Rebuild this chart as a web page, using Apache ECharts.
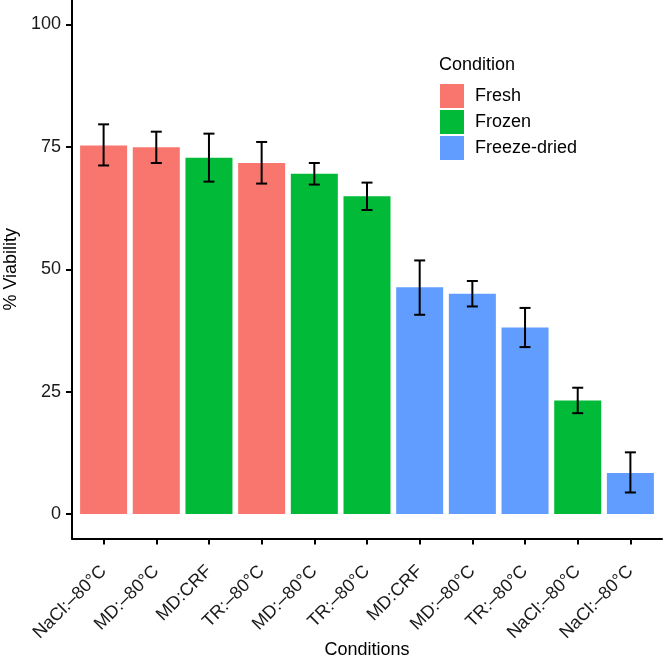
<!DOCTYPE html>
<html>
<head>
<meta charset="utf-8">
<script src="https://cdn.jsdelivr.net/npm/echarts@6/dist/echarts.min.js"></script>
<style>html,body{margin:0;padding:0;background:#fff}#c{width:664px;height:663px}</style>
</head>
<body>
<div id="c"></div>
<script>
const categories = ['NaCl:\u201380\u00B0C','MD:\u201380\u00B0C','MD:CRF','TR:\u201380\u00B0C','MD:\u201380\u00B0C','TR:\u201380\u00B0C','MD:CRF','MD:\u201380\u00B0C','TR:\u201380\u00B0C','NaCl:\u201380\u00B0C','NaCl:\u201380\u00B0C'];
const conditions = ['Fresh','Fresh','Frozen','Fresh','Frozen','Frozen','Freeze-dried','Freeze-dried','Freeze-dried','Frozen','Freeze-dried'];
const viability = [75.3, 74.9, 72.8, 71.7, 69.5, 64.9, 46.3, 45.0, 38.1, 23.2, 8.4];
const errLow  = [71.2, 71.7, 67.9, 67.5, 67.3, 62.1, 40.7, 42.4, 34.1, 20.6, 4.4];
const errHigh = [79.6, 78.1, 77.7, 76.0, 71.7, 67.7, 51.8, 47.6, 42.1, 25.8, 12.6];
const legendNames = ['Fresh','Frozen','Freeze-dried'];
const yTicks = [0, 25, 50, 75, 100];

const colors = {'Fresh':'#F8766D','Frozen':'#00BA38','Freeze-dried':'#619CFF'};
const idx = categories.map((_, i) => i);
const font = 'Liberation Sans, Arial, sans-serif';

const barSeries = legendNames.map(name => ({
  name: name,
  type: 'bar',
  barWidth: 47,
  barGap: '-100%',
  itemStyle: {color: colors[name]},
  data: idx.filter(i => conditions[i] === name).map(i => [i, viability[i]]),
  animation: false
}));

const errSeries = {
  type: 'custom',
  data: idx.map(i => [i, errLow[i], errHigh[i]]),
  renderItem: function (params, api) {
    const x = api.value(0);
    const lo = api.coord([x, api.value(1)]);
    const hi = api.coord([x, api.value(2)]);
    const hw = 5.5;
    const st = {stroke: '#000', lineWidth: 2};
    return {type: 'group', children: [
      {type: 'line', shape: {x1: lo[0], y1: lo[1], x2: hi[0], y2: hi[1]}, style: st},
      {type: 'line', shape: {x1: lo[0]-hw, y1: lo[1], x2: lo[0]+hw, y2: lo[1]}, style: st},
      {type: 'line', shape: {x1: hi[0]-hw, y1: hi[1], x2: hi[0]+hw, y2: hi[1]}, style: st}
    ]};
  },
  z: 10,
  animation: false
};

const chart = echarts.init(document.getElementById('c'), null, {renderer: 'canvas'});
chart.setOption({
  animation: false,
  backgroundColor: '#fff',
  textStyle: {fontFamily: font},
  title: {text: 'Condition', left: 434, top: 51, textStyle: {fontFamily: font, fontSize: 18, fontWeight: 'normal', color: '#000'}},
  graphic: [{
    type: 'text', x: 367, y: 650,
    style: {text: 'Conditions', font: '18px ' + font, fill: '#000', textAlign: 'center', textVerticalAlign: 'middle'}
  }],
  legend: {
    data: legendNames,
    orient: 'vertical',
    left: 435, top: 79,
    icon: 'rect',
    itemWidth: 24, itemHeight: 24, itemGap: 2,
    textStyle: {fontFamily: font, fontSize: 18, color: '#000', padding: [0,0,0,6]},
    selectedMode: false
  },
  grid: {left: 72, right: 2, top: 0, bottom: 663 - 538.5, containLabel: false, outerBoundsMode: 'none'},
  xAxis: {
    type: 'value',
    min: -0.6, max: categories.length - 1 + 0.6,
    axisLine: {show: true, onZero: false, lineStyle: {color: '#000', width: 2}},
    axisTick: {show: true, customValues: idx, length: 6, lineStyle: {color: '#000', width: 2}},
    axisLabel: {customValues: idx, rotate: 45, margin: 30, fontFamily: font, fontSize: 18, color: '#1a1a1a',
      formatter: v => categories[Math.round(v)]},
    splitLine: {show: false}
  },
  yAxis: {
    type: 'value', min: -5, max: 105,
    name: '% Viability', nameLocation: 'middle', nameGap: 47,
    nameTextStyle: {fontFamily: font, fontSize: 18, color: '#000'},
    axisLine: {show: true, onZero: false, lineStyle: {color: '#000', width: 2}},
    axisTick: {show: true, customValues: yTicks, length: 6, lineStyle: {color: '#000', width: 2}},
    axisLabel: {customValues: yTicks, margin: 11, fontFamily: font, fontSize: 18, color: '#1a1a1a'},
    splitLine: {show: false}
  },
  series: barSeries.concat([errSeries])
});
</script>
</body>
</html>
